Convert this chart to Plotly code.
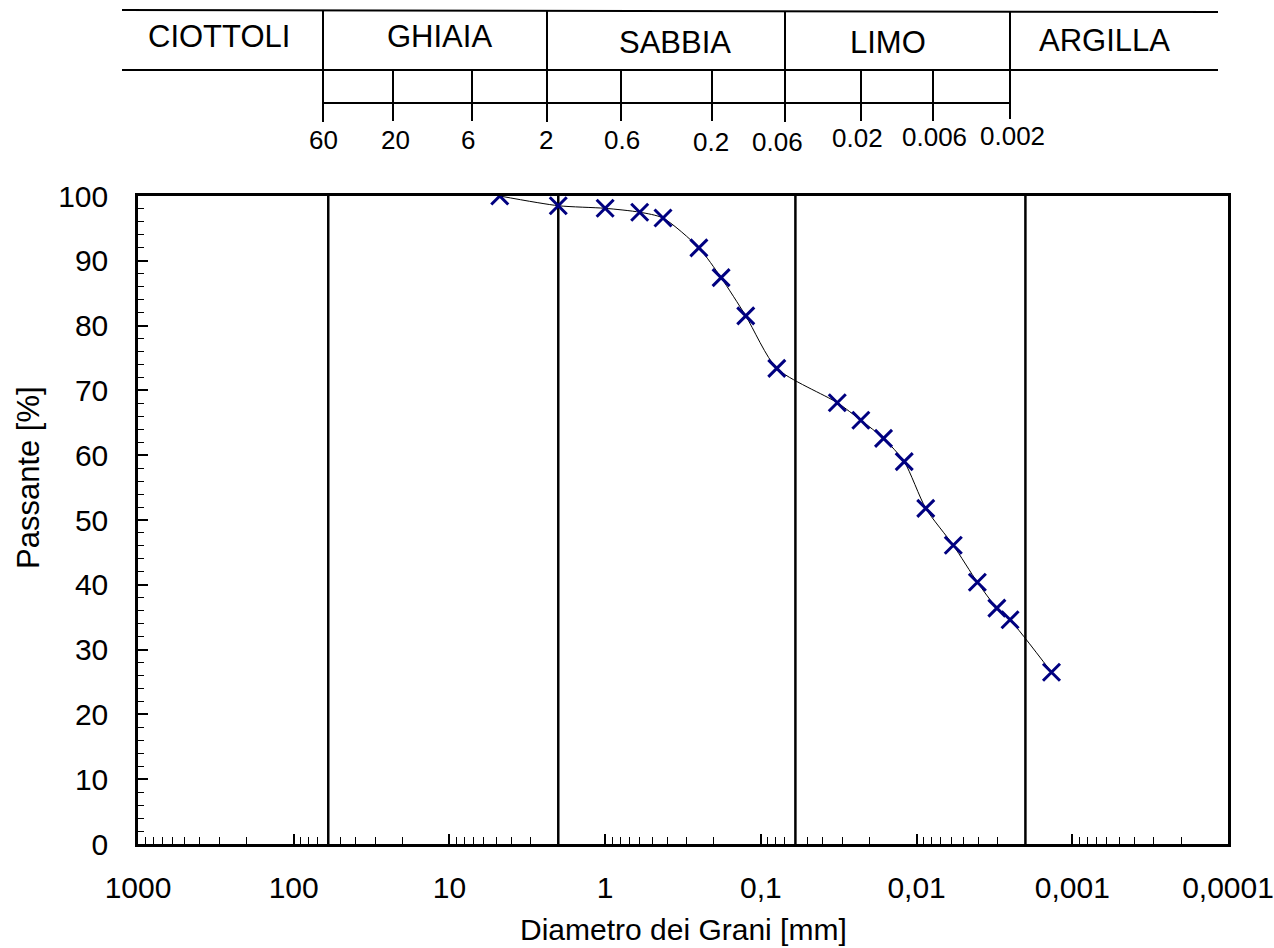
import plotly.graph_objects as go

# Grain size distribution (sieve + hydrometer)
diametro_mm = [4.75, 2.0, 1.0, 0.6, 0.425, 0.25, 0.18, 0.125, 0.079,
               0.0323, 0.0228, 0.0163, 0.0120, 0.00873, 0.00581,
               0.00407, 0.00305, 0.00251, 0.00136]
passante = [100.0, 98.5, 98.1, 97.5, 96.6, 92.0, 87.4, 81.5, 73.4,
            68.1, 65.4, 62.6, 59.0, 51.8, 46.1,
            40.4, 36.4, 34.6, 26.5]

# Class boundaries drawn as vertical lines [mm]
limiti_classi = [60, 2, 0.06, 0.002]

# X axis labels (Italian decimal comma)
x_tickvals = [1000, 100, 10, 1, 0.1, 0.01, 0.001, 0.0001]
x_ticktext = ["1000", "100", "10", "1", "0,1", "0,01", "0,001", "0,0001"]

# Header table: soil classes and size labels
classi = ["CIOTTOLI", "GHIAIA", "SABBIA", "LIMO", "ARGILLA"]
scala_testa = ["60", "20", "6", "2", "0.6", "0.2", "0.06", "0.02", "0.006", "0.002"]

# ---- page geometry (pixels) ----
W, H = 1274, 948
ML, MR, MT, MB = 138, 46, 196, 104
PW, PH = W - ML - MR, H - MT - MB


def fx(px):
    return (px - ML) / PW


def fy(py):
    return (H - MB - py) / PH


FONT = "Liberation Sans, Arial, sans-serif"

fig = go.Figure()
fig.add_trace(go.Scatter(
    x=diametro_mm, y=passante, mode="lines+markers",
    line=dict(color="black", width=1, shape="spline", smoothing=0.7),
    marker=dict(symbol="x-thin", size=17, color="#000080",
                line=dict(color="#000080", width=3)),
    showlegend=False, hoverinfo="x+y",
))

shapes = []
for d in limiti_classi:
    shapes.append(dict(type="line", xref="x", yref="y", x0=d, x1=d,
                       y0=0, y1=100, layer="below",
                       line=dict(color="black", width=2.5)))

# header table layout in pixels
sep_x = [323, 547, 785, 1010]
tick_x = [393, 472, 621, 712, 861, 933]
line_style = dict(color="black", width=2)
shapes.append(dict(type="line", xref="paper", yref="paper",
                   x0=fx(122), y0=fy(10), x1=fx(1218), y1=fy(12), line=line_style))
shapes.append(dict(type="line", xref="paper", yref="paper",
                   x0=fx(122), y0=fy(70), x1=fx(1218), y1=fy(70), line=line_style))
shapes.append(dict(type="line", xref="paper", yref="paper",
                   x0=fx(323), y0=fy(103), x1=fx(1010), y1=fy(103), line=line_style))
for i, sx in enumerate(sep_x):
    y_end = 119 if i == len(sep_x) - 1 else 122
    shapes.append(dict(type="line", xref="paper", yref="paper",
                       x0=fx(sx), y0=fy(11), x1=fx(sx), y1=fy(y_end), line=line_style))
for tx in tick_x:
    shapes.append(dict(type="line", xref="paper", yref="paper",
                       x0=fx(tx), y0=fy(69), x1=fx(tx), y1=fy(121), line=line_style))

annotations = []
classi_pos = [(219, 36), (439, 37), (675, 42), (888, 42), (1104, 41)]
for nome, (cx, cy) in zip(classi, classi_pos):
    annotations.append(dict(text=nome, xref="paper", yref="paper",
                            x=fx(cx), y=fy(cy), showarrow=False,
                            xanchor="center", yanchor="middle",
                            font=dict(family=FONT, size=31, color="black")))
scala_pos = [(323, 140), (395, 140), (468, 140), (546, 140), (622, 140),
             (711, 142), (777, 142), (857, 138), (934, 137), (1012, 136)]
for lab, (cx, cy) in zip(scala_testa, scala_pos):
    annotations.append(dict(text=lab, xref="paper", yref="paper",
                            x=fx(cx), y=fy(cy), showarrow=False,
                            xanchor="center", yanchor="middle",
                            font=dict(family=FONT, size=26, color="black")))

# axis titles
annotations.append(dict(text="Passante [%]", xref="paper", yref="paper",
                        x=fx(28), y=fy(478), showarrow=False, textangle=-90,
                        xanchor="center", yanchor="middle",
                        font=dict(family=FONT, size=31, color="black")))
annotations.append(dict(text="Diametro dei Grani [mm]", xref="paper", yref="paper",
                        x=fx(683), y=fy(929), showarrow=False,
                        xanchor="center", yanchor="middle",
                        font=dict(family=FONT, size=30, color="black")))

minor_x = [m * 10 ** k for k in range(-4, 3) for m in range(2, 10)]

fig.update_layout(
    width=W, height=H,
    margin=dict(l=ML, r=MR, t=MT, b=MB, pad=0, autoexpand=False),
    paper_bgcolor="white", plot_bgcolor="white",
    font=dict(family=FONT, size=30, color="black"),
    shapes=shapes, annotations=annotations,
    xaxis=dict(
        type="log", range=[3, -4], tickmode="array", automargin=False,
        tickvals=x_tickvals, ticktext=x_ticktext,
        ticks="inside", ticklen=10, tickwidth=1.5, tickcolor="black",
        minor=dict(tickmode="array", tickvals=minor_x, ticks="inside",
                   ticklen=7, tickwidth=1.2, tickcolor="black", showgrid=False),
        showgrid=False, zeroline=False,
        showline=True, linecolor="black", linewidth=2.5, mirror=True,
        ticklabelstandoff=15,
        tickfont=dict(family=FONT, size=30, color="black"),
    ),
    yaxis=dict(
        range=[0, 100], tickmode="linear", tick0=0, dtick=10, automargin=False,
        ticks="inside", ticklen=10, tickwidth=1.5, tickcolor="black",
        minor=dict(dtick=2, ticks="inside", ticklen=6, tickwidth=1.2,
                   tickcolor="black", showgrid=False),
        showgrid=False, zeroline=False,
        showline=True, linecolor="black", linewidth=2.5, mirror=True,
        ticklabelstandoff=21,
        tickfont=dict(family=FONT, size=30, color="black"),
    ),
)

fig.write_html("out.html")
